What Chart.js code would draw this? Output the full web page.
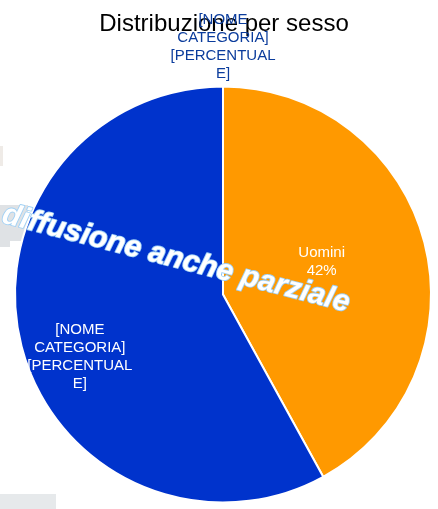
<!DOCTYPE html>
<html lang="it">
<head>
<meta charset="utf-8">
<title>Distribuzione per sesso</title>
<script src="https://cdn.jsdelivr.net/npm/chart.js@4.4.1/dist/chart.umd.min.js"></script>
<style>
  html, body { margin: 0; padding: 0; background: #fff; }
  #contenitore { width: 438px; height: 509px; position: relative; }
</style>
</head>
<body>
<div id="contenitore"><canvas id="graficoSesso"></canvas></div>
<script>
// Dati del grafico
const titolo = "Distribuzione per sesso";
const categorie = ["Uomini", "[NOME CATEGORIA]", "[NOME CATEGORIA]"];
const valori = [42, 58, 0];
const percentuali = ["42%", "[PERCENTUALE]", "[PERCENTUALE]"];
const colori = ["#ff9900", "#0033cc", "#0033cc"];
const filigrana = "diffusione anche parziale";

// Posizione delle etichette rispetto al raggio della fetta
const stileEtichette = [
    { raggio: 0.50, scarto: -4, colore: "#ffffff" },
    { raggio: 0.75, scarto: -9, colore: "#ffffff" },
    { raggio: 1.19, scarto: 0, colore: "#0b3c9c" }
];
const FONT = "'Liberation Sans', Arial, sans-serif";

// Spezza il testo in righe che stanno nella larghezza massima
function spezzaTesto(ctx, testo, larghezzaMax) {
    const righe = [];
    let corrente = "";
    testo.split(" ").forEach(parola => {
        const prova = corrente ? corrente + " " + parola : parola;
        if (ctx.measureText(prova).width <= larghezzaMax) {
            corrente = prova;
            return;
        }
        if (corrente) righe.push(corrente);
        corrente = "";
        for (const c of parola) {
            if (corrente && ctx.measureText(corrente + c).width > larghezzaMax) {
                righe.push(corrente);
                corrente = c;
            } else {
                corrente += c;
            }
        }
    });
    if (corrente) righe.push(corrente);
    return righe;
}

// Sfondo, titolo, etichette e filigrana
const pluginDecorazioni = {
    id: "decorazioni",
    beforeDraw(chart) {
        const ctx = chart.ctx;
        ctx.save();
        ctx.fillStyle = "#efebe7";
        ctx.fillRect(0, 146, 3, 20);
        ctx.fillStyle = "#dfe2e5";
        ctx.fillRect(0, 205, 28, 36);
        ctx.fillRect(0, 241, 10, 6);
        ctx.fillStyle = "#e6e9eb";
        ctx.fillRect(0, 494, 56, 15);
        ctx.restore();
    },
    afterDraw(chart) {
        const ctx = chart.ctx;
        ctx.save();

        ctx.fillStyle = "#000";
        ctx.font = "24px " + FONT;
        ctx.textAlign = "center";
        ctx.textBaseline = "alphabetic";
        ctx.fillText(titolo, 224, 31);

        const meta = chart.getDatasetMeta(0);
        ctx.font = "15px " + FONT;
        ctx.textBaseline = "middle";
        meta.data.forEach((arco, i) => {
            const p = arco.getProps(["x", "y", "startAngle", "endAngle", "outerRadius"], true);
            const st = stileEtichette[i];
            const medio = (p.startAngle + p.endAngle) / 2 + st.scarto * Math.PI / 180;
            const cx = p.x + Math.cos(medio) * p.outerRadius * st.raggio;
            const cy = p.y + Math.sin(medio) * p.outerRadius * st.raggio;
            const righe = spezzaTesto(ctx, categorie[i], 110).concat(spezzaTesto(ctx, percentuali[i], 110));
            const interlinea = 18;
            ctx.fillStyle = st.colore;
            righe.forEach((riga, k) => {
                ctx.fillText(riga, cx, cy + (k - (righe.length - 1) / 2) * interlinea);
            });
        });

        ctx.translate(176, 259);
        ctx.rotate(14.5 * Math.PI / 180);
        ctx.font = "italic bold 30px " + FONT;
        ctx.textAlign = "center";
        ctx.textBaseline = "middle";
        ctx.lineJoin = "round";
        ctx.lineWidth = 1.8;
        ctx.strokeStyle = "#9fd0f5";
        ctx.strokeText(filigrana, 0, 0);
        ctx.fillStyle = "#ffffff";
        ctx.fillText(filigrana, 0, 0);
        ctx.restore();
    }
};

new Chart(document.getElementById("graficoSesso"), {
    type: "pie",
    data: {
        labels: categorie,
        datasets: [{
            data: valori,
            backgroundColor: colori,
            borderColor: "#ffffff",
            borderWidth: 2
        }]
    },
    options: {
        responsive: true,
        maintainAspectRatio: false,
        animation: false,
        layout: { padding: { top: 85, bottom: 5, left: 14, right: 6 } },
        plugins: {
            legend: { display: false },
            tooltip: { enabled: false },
            title: { display: false }
        }
    },
    plugins: [pluginDecorazioni]
});
</script>
</body>
</html>
